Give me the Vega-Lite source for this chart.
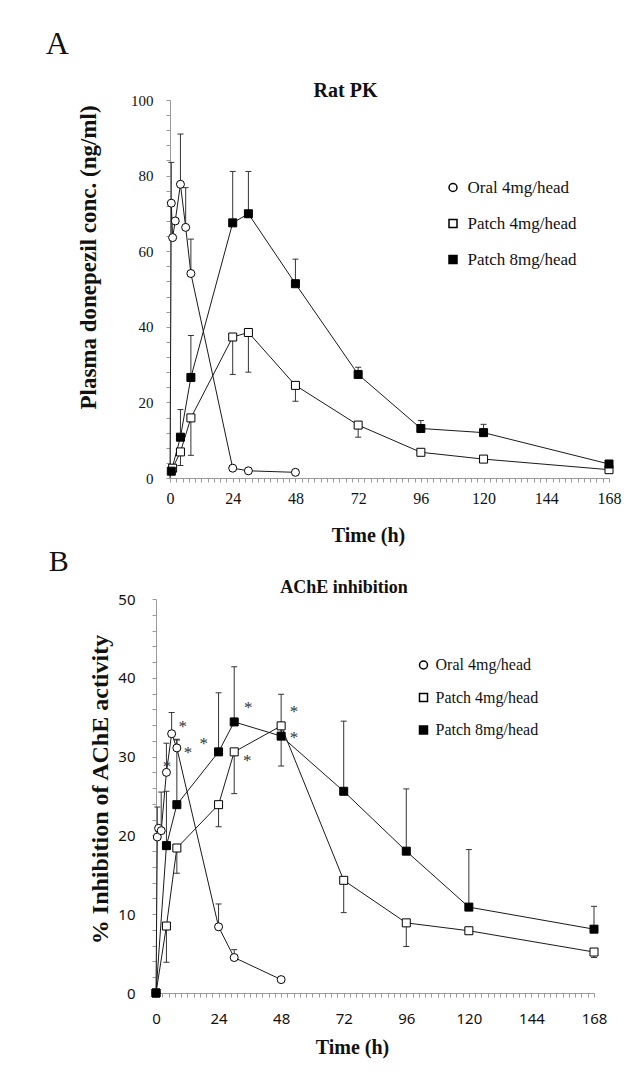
{
  "$schema": "https://vega.github.io/schema/vega-lite/v6.json",
  "padding": {"left": 45, "top": 28, "right": 5, "bottom": 5},
  "background": "white",
  "spacing": 2,
  "config": {
    "view": {"stroke": null},
    "font": "Liberation Serif",
    "axis": {"grid": false, "domainColor": "#9a9a9a", "tickColor": "#9a9a9a", "tickSize": 4, "labelColor": "#111", "titleColor": "#111", "labelOverlap": false, "labelFlush": false}
  },
  "datasets": {
    "pk": [
      {"s": "Oral 4mg/head", "t": 0, "v": 0},
      {"s": "Oral 4mg/head", "t": 0.5, "v": 72.7, "e": 83.5},
      {"s": "Oral 4mg/head", "t": 1, "v": 63.6},
      {"s": "Oral 4mg/head", "t": 2, "v": 68.0},
      {"s": "Oral 4mg/head", "t": 4, "v": 77.7, "e": 91.0},
      {"s": "Oral 4mg/head", "t": 6, "v": 66.3, "e": 76.8},
      {"s": "Oral 4mg/head", "t": 8, "v": 54.1, "e": 63.2},
      {"s": "Oral 4mg/head", "t": 24, "v": 2.6},
      {"s": "Oral 4mg/head", "t": 30, "v": 1.9},
      {"s": "Oral 4mg/head", "t": 48, "v": 1.5},
      {"s": "Patch 4mg/head", "t": 1, "v": 2.6},
      {"s": "Patch 4mg/head", "t": 4, "v": 6.9, "e": 3.3},
      {"s": "Patch 4mg/head", "t": 8, "v": 15.9, "e": 6.0},
      {"s": "Patch 4mg/head", "t": 24, "v": 37.3, "e": 27.4},
      {"s": "Patch 4mg/head", "t": 30, "v": 38.5, "e": 28.0},
      {"s": "Patch 4mg/head", "t": 48, "v": 24.5, "e": 20.3},
      {"s": "Patch 4mg/head", "t": 72, "v": 14.0, "e": 10.8},
      {"s": "Patch 4mg/head", "t": 96, "v": 6.8},
      {"s": "Patch 4mg/head", "t": 120, "v": 5.0},
      {"s": "Patch 4mg/head", "t": 168, "v": 2.2},
      {"s": "Patch 8mg/head", "t": 0.5, "v": 1.8},
      {"s": "Patch 8mg/head", "t": 4, "v": 10.8, "e": 18.1},
      {"s": "Patch 8mg/head", "t": 8, "v": 26.6, "e": 37.7},
      {"s": "Patch 8mg/head", "t": 24, "v": 67.5, "e": 81.1},
      {"s": "Patch 8mg/head", "t": 30, "v": 69.9, "e": 81.1},
      {"s": "Patch 8mg/head", "t": 48, "v": 51.4, "e": 57.9},
      {"s": "Patch 8mg/head", "t": 72, "v": 27.4, "e": 29.3},
      {"s": "Patch 8mg/head", "t": 96, "v": 13.1, "e": 15.2},
      {"s": "Patch 8mg/head", "t": 120, "v": 12.0, "e": 14.2},
      {"s": "Patch 8mg/head", "t": 168, "v": 3.7}
    ],
    "ache": [
      {"s": "Oral 4mg/head", "t": 0, "v": 0},
      {"s": "Oral 4mg/head", "t": 0.5, "v": 19.8, "e": 23.6},
      {"s": "Oral 4mg/head", "t": 1, "v": 20.9},
      {"s": "Oral 4mg/head", "t": 2, "v": 20.6, "e": 25.5},
      {"s": "Oral 4mg/head", "t": 4, "v": 28.0, "e": 31.7},
      {"s": "Oral 4mg/head", "t": 6, "v": 32.9, "e": 35.6},
      {"s": "Oral 4mg/head", "t": 8, "v": 31.1, "e": 32.1},
      {"s": "Oral 4mg/head", "t": 24, "v": 8.4, "e": 11.3},
      {"s": "Oral 4mg/head", "t": 30, "v": 4.5, "e": 5.5},
      {"s": "Oral 4mg/head", "t": 48, "v": 1.7},
      {"s": "Patch 4mg/head", "t": 0, "v": 0},
      {"s": "Patch 4mg/head", "t": 4, "v": 8.5, "e": 3.9},
      {"s": "Patch 4mg/head", "t": 8, "v": 18.4, "e": 15.2},
      {"s": "Patch 4mg/head", "t": 24, "v": 23.9, "e": 21.1},
      {"s": "Patch 4mg/head", "t": 30, "v": 30.6, "e": 25.3},
      {"s": "Patch 4mg/head", "t": 48, "v": 33.9, "e": 28.8},
      {"s": "Patch 4mg/head", "t": 72, "v": 14.3, "e": 10.2},
      {"s": "Patch 4mg/head", "t": 96, "v": 8.9, "e": 5.9},
      {"s": "Patch 4mg/head", "t": 120, "v": 7.9},
      {"s": "Patch 4mg/head", "t": 168, "v": 5.2, "e": 4.5},
      {"s": "Patch 8mg/head", "t": 0, "v": 0},
      {"s": "Patch 8mg/head", "t": 4, "v": 18.7, "e": 25.6},
      {"s": "Patch 8mg/head", "t": 8, "v": 23.9, "e": 32.2},
      {"s": "Patch 8mg/head", "t": 24, "v": 30.6, "e": 38.1},
      {"s": "Patch 8mg/head", "t": 30, "v": 34.4, "e": 41.4},
      {"s": "Patch 8mg/head", "t": 48, "v": 32.6, "e": 37.9},
      {"s": "Patch 8mg/head", "t": 72, "v": 25.6, "e": 34.5},
      {"s": "Patch 8mg/head", "t": 96, "v": 18.0, "e": 25.9},
      {"s": "Patch 8mg/head", "t": 120, "v": 10.9, "e": 18.2},
      {"s": "Patch 8mg/head", "t": 168, "v": 8.1, "e": 11.0}
    ],
    "stars": [
      {"t": 4.2, "v": 29.1},
      {"t": 10.3, "v": 34.2},
      {"t": 12.3, "v": 30.8},
      {"t": 18.3, "v": 32.0},
      {"t": 35.4, "v": 36.6},
      {"t": 35.0, "v": 29.8},
      {"t": 52.9, "v": 36.0},
      {"t": 52.9, "v": 32.7}
    ]
  },
  "resolve": {
    "scale": {"x": "independent", "y": "independent", "fill": "independent", "shape": "independent"},
    "legend": {"fill": "independent", "shape": "independent"}
  },
  "vconcat": [
    {
      "title": {"text": "A", "anchor": "start", "frame": "bounds", "dx": -24, "offset": -5, "fontSize": 32, "fontWeight": "normal", "font": "Liberation Serif", "baseline": "alphabetic", "color": "#111"},
      "spacing": 0,
      "hconcat": [
        {
          "width": 1,
          "height": 1,
          "data": {"values": [{"k": 0}]},
          "mark": {"type": "point", "opacity": 0},
          "encoding": {}
        },
        {
          "width": 439,
          "height": 378,
          "title": {"text": "Rat PK", "anchor": "middle", "frame": "group", "dx": -44, "offset": -24, "fontSize": 20, "fontWeight": "bold", "font": "Liberation Serif", "baseline": "alphabetic", "color": "#111"},
          "layer": [
            {
              "data": {"name": "pk"},
              "mark": {"type": "line", "color": "#1a1a1a", "strokeWidth": 1},
              "encoding": {
                "x": {"field": "t", "type": "quantitative", "scale": {"domain": [0, 168], "nice": false, "zero": false},
                      "axis": {"values": [0,2.4,4.8,7.2,9.6,12,14.4,16.8,19.2,21.6,24,26.4,28.8,31.2,33.6,36,38.4,40.8,43.2,45.6,48,50.4,52.8,55.2,57.6,60,62.4,64.8,67.2,69.6,72,74.4,76.8,79.2,81.6,84,86.4,88.8,91.2,93.6,96,98.4,100.8,103.2,105.6,108,110.4,112.8,115.2,117.6,120,122.4,124.8,127.2,129.6,132,134.4,136.8,139.2,141.6,144,146.4,148.8,151.2,153.6,156,158.4,160.8,163.2,165.6,168],
                               "tickCount": 500, "format": "d",
                               "labelExpr": "datum.value % 24 === 0 ? datum.label : ''",
                               "title": "Time (h)", "titleFont": "Liberation Serif", "titleFontSize": 20, "titleFontWeight": "bold", "titleX": 198, "titleY": 63, "titleBaseline": "alphabetic",
                               "labelFont": "Liberation Serif", "labelFontSize": 16, "labelBaseline": "alphabetic", "labelPadding": 21}},
                "y": {"field": "v", "type": "quantitative", "scale": {"domain": [0, 100], "nice": false},
                      "axis": {"values": [0,4,8,12,16,20,24,28,32,36,40,44,48,52,56,60,64,68,72,76,80,84,88,92,96,100],
                               "tickCount": 500, "format": "d",
                               "labelExpr": "datum.value % 20 === 0 ? datum.label : ''",
                               "title": "Plasma donepezil conc. (ng/ml)", "titleFont": "Liberation Serif", "titleFontSize": 23, "titleFontWeight": "bold", "titleX": -82, "titleY": 157, "titleBaseline": "middle",
                               "labelFont": "Liberation Serif", "labelFontSize": 15, "labelPadding": 13}},
                "detail": {"field": "s"}
              }
            },
            {
              "data": {"name": "pk"},
              "transform": [{"filter": "isValid(datum.e)"}],
              "mark": {"type": "rule", "color": "#333", "strokeWidth": 1},
              "encoding": {
                "x": {"field": "t", "type": "quantitative"},
                "y": {"field": "v", "type": "quantitative"},
                "y2": {"field": "e"}
              }
            },
            {
              "data": {"name": "pk"},
              "transform": [{"filter": "isValid(datum.e)"}],
              "mark": {"type": "tick", "orient": "horizontal", "color": "#333", "size": 6, "thickness": 1, "opacity": 1},
              "encoding": {
                "x": {"field": "t", "type": "quantitative"},
                "y": {"field": "e", "type": "quantitative"}
              }
            },
            {
              "data": {"name": "pk"},
              "transform": [{"filter": "datum.v > 0"}],
              "mark": {"type": "point", "filled": true, "stroke": "black", "strokeWidth": 1, "size": 64, "opacity": 1},
              "encoding": {
                "x": {"field": "t", "type": "quantitative"},
                "y": {"field": "v", "type": "quantitative"},
                "shape": {"field": "s", "type": "nominal", "scale": {"domain": ["Oral 4mg/head", "Patch 4mg/head", "Patch 8mg/head"], "range": ["circle", "square", "square"]},
                          "legend": {"title": null, "orient": "none", "legendX": 372.5, "legendY": 79, "padding": 0, "rowPadding": 18, "labelFont": "Liberation Serif", "labelFontSize": 17, "labelColor": "#111", "labelOffset": 6, "symbolSize": 64,
                                     "encode": {"symbols": {"stroke": {"value": "black"}, "strokeWidth": {"value": 1}, "opacity": {"value": 1}}}}},
                "fill": {"field": "s", "type": "nominal", "scale": {"domain": ["Oral 4mg/head", "Patch 4mg/head", "Patch 8mg/head"], "range": ["white", "white", "black"]},
                         "legend": {"title": null, "orient": "none", "legendX": 372.5, "legendY": 79, "padding": 0, "rowPadding": 18, "labelFont": "Liberation Serif", "labelFontSize": 17, "labelColor": "#111", "labelOffset": 6, "symbolSize": 64,
                                    "encode": {"symbols": {"stroke": {"value": "black"}, "strokeWidth": {"value": 1}, "opacity": {"value": 1}}}}}
              }
            }
          ]
        }
      ]
    },
    {
      "title": {"text": "B", "anchor": "start", "frame": "bounds", "dx": -21, "offset": -22, "fontSize": 30, "fontWeight": "normal", "font": "Liberation Serif", "baseline": "alphabetic", "color": "#111"},
      "spacing": 12,
      "hconcat": [
        {
          "width": 1,
          "height": 1,
          "data": {"values": [{"k": 0}]},
          "mark": {"type": "point", "opacity": 0},
          "encoding": {}
        },
        {
          "width": 438,
          "height": 394,
          "title": {"text": "AChE inhibition", "anchor": "middle", "frame": "group", "dx": -31, "offset": -19, "fontSize": 18, "fontWeight": "bold", "font": "Liberation Serif", "baseline": "alphabetic", "color": "#111"},
          "layer": [
            {
              "data": {"name": "ache"},
              "mark": {"type": "line", "color": "#1a1a1a", "strokeWidth": 1},
              "encoding": {
                "x": {"field": "t", "type": "quantitative", "scale": {"domain": [0, 168], "nice": false, "zero": false},
                      "axis": {"values": [0,2.4,4.8,7.2,9.6,12,14.4,16.8,19.2,21.6,24,26.4,28.8,31.2,33.6,36,38.4,40.8,43.2,45.6,48,50.4,52.8,55.2,57.6,60,62.4,64.8,67.2,69.6,72,74.4,76.8,79.2,81.6,84,86.4,88.8,91.2,93.6,96,98.4,100.8,103.2,105.6,108,110.4,112.8,115.2,117.6,120,122.4,124.8,127.2,129.6,132,134.4,136.8,139.2,141.6,144,146.4,148.8,151.2,153.6,156,158.4,160.8,163.2,165.6,168],
                               "tickCount": 500, "format": "d",
                               "labelExpr": "datum.value % 24 === 0 ? datum.label : ''",
                               "title": "Time (h)", "titleFont": "Liberation Serif", "titleFontSize": 20, "titleFontWeight": "bold", "titleX": 196, "titleY": 60, "titleBaseline": "alphabetic",
                               "labelFont": "Noto Sans", "labelFontSize": 15, "labelBaseline": "alphabetic", "labelPadding": 26}},
                "y": {"field": "v", "type": "quantitative", "scale": {"domain": [0, 50], "nice": false},
                      "axis": {"values": [0,2,4,6,8,10,12,14,16,18,20,22,24,26,28,30,32,34,36,38,40,42,44,46,48,50],
                               "tickCount": 500, "format": "d",
                               "labelExpr": "datum.value % 10 === 0 ? datum.label : ''",
                               "title": "% Inhibition of AChE activity", "titleFont": "Liberation Serif", "titleFontSize": 24, "titleFontWeight": "bold", "titleX": -56, "titleY": 190, "titleBaseline": "middle",
                               "labelFont": "Noto Sans", "labelFontSize": 15, "labelPadding": 17}},
                "detail": {"field": "s"}
              }
            },
            {
              "data": {"name": "ache"},
              "transform": [{"filter": "isValid(datum.e)"}],
              "mark": {"type": "rule", "color": "#333", "strokeWidth": 1},
              "encoding": {
                "x": {"field": "t", "type": "quantitative"},
                "y": {"field": "v", "type": "quantitative"},
                "y2": {"field": "e"}
              }
            },
            {
              "data": {"name": "ache"},
              "transform": [{"filter": "isValid(datum.e)"}],
              "mark": {"type": "tick", "orient": "horizontal", "color": "#333", "size": 6, "thickness": 1, "opacity": 1},
              "encoding": {
                "x": {"field": "t", "type": "quantitative"},
                "y": {"field": "e", "type": "quantitative"}
              }
            },
            {
              "data": {"name": "stars"},
              "mark": {"type": "text", "text": "*", "font": "Liberation Serif", "fontSize": 17, "color": "#333", "baseline": "alphabetic", "dy": 8},
              "encoding": {
                "x": {"field": "t", "type": "quantitative"},
                "y": {"field": "v", "type": "quantitative"}
              }
            },
            {
              "data": {"name": "ache"},
              "mark": {"type": "point", "filled": true, "stroke": "black", "strokeWidth": 1, "size": 64, "opacity": 1},
              "encoding": {
                "x": {"field": "t", "type": "quantitative"},
                "y": {"field": "v", "type": "quantitative"},
                "shape": {"field": "s", "type": "nominal", "scale": {"domain": ["Oral 4mg/head", "Patch 4mg/head", "Patch 8mg/head"], "range": ["circle", "square", "square"]},
                          "legend": {"title": null, "orient": "none", "legendX": 343.5, "legendY": 58, "padding": 0, "rowPadding": 16.5, "labelFont": "Liberation Serif", "labelFontSize": 16, "labelColor": "#111", "labelOffset": 4, "symbolSize": 64,
                                     "encode": {"symbols": {"stroke": {"value": "black"}, "strokeWidth": {"value": 1}, "opacity": {"value": 1}}}}},
                "fill": {"field": "s", "type": "nominal", "scale": {"domain": ["Oral 4mg/head", "Patch 4mg/head", "Patch 8mg/head"], "range": ["white", "white", "black"]},
                         "legend": {"title": null, "orient": "none", "legendX": 343.5, "legendY": 58, "padding": 0, "rowPadding": 16.5, "labelFont": "Liberation Serif", "labelFontSize": 16, "labelColor": "#111", "labelOffset": 4, "symbolSize": 64,
                                    "encode": {"symbols": {"stroke": {"value": "black"}, "strokeWidth": {"value": 1}, "opacity": {"value": 1}}}}}
              }
            }
          ]
        }
      ]
    }
  ]
}
